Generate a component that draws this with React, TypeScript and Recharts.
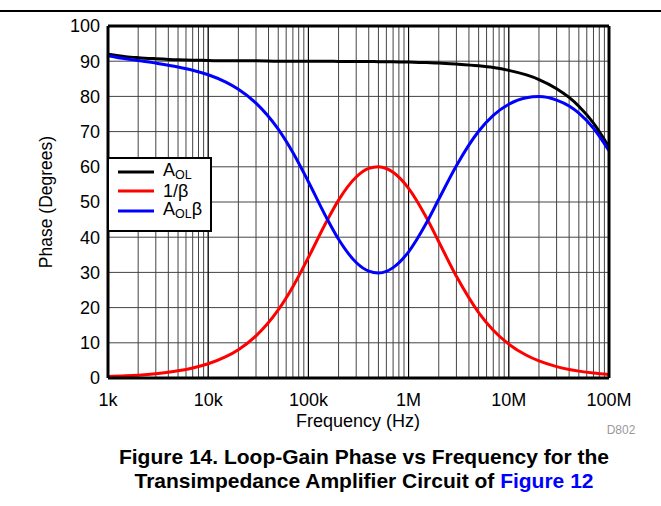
import React from 'react';
import { LineChart, Line, XAxis, YAxis, CartesianGrid, ReferenceLine } from 'recharts';

// Frequency (Hz)
const freqs = [1e3, 1.5e3, 2e3, 3e3, 5e3, 7e3, 1e4, 1.5e4, 2e4, 3e4, 5e4, 7e4, 1e5, 1.5e5, 2e5, 3e5, 4e5, 5e5, 6e5, 7e5, 1e6, 1.5e6, 2e6, 3e6, 5e6, 7e6, 1e7, 1.5e7, 2e7, 3e7, 4e7, 5e7, 7e7, 1e8];
// Phase (degrees)
const aolPhase = [92.0, 91.3, 91.0, 90.7, 90.4, 90.3, 90.2, 90.1, 90.1, 90.1, 90.0, 90.0, 90.0, 90.0, 89.95, 89.92, 89.9, 89.87, 89.85, 89.82, 89.74, 89.6, 89.5, 89.2, 88.7, 88.2, 87.4, 86.1, 84.8, 82.2, 79.7, 77.2, 72.4, 65.6];
const invBetaPhase = [0.41, 0.61, 0.81, 1.22, 2.03, 2.84, 4.05, 6.06, 8.05, 11.96, 19.33, 25.93, 34.23, 44.18, 50.54, 57.1, 59.53, 60.03, 59.52, 58.46, 53.89, 45.66, 38.71, 28.88, 18.6, 13.58, 9.62, 6.46, 4.85, 3.24, 2.43, 1.95, 1.39, 0.97];
const loopPhase = [91.59, 90.69, 90.19, 89.45, 88.37, 87.45, 86.15, 84.07, 82.05, 78.11, 70.7, 64.07, 55.76, 45.78, 39.41, 32.82, 30.36, 29.84, 30.31, 31.36, 35.85, 43.94, 50.79, 60.32, 70.1, 74.62, 77.78, 79.64, 79.95, 78.96, 77.27, 75.25, 70.96, 64.6];

const decades = [1e3, 1e4, 1e5, 1e6, 1e7, 1e8];
const decadeLabels = ['1k', '10k', '100k', '1M', '10M', '100M'];
const yTicks = [0, 10, 20, 30, 40, 50, 60, 70, 80, 90, 100];

const data = freqs.map((f, i) => ({ f, aol: aolPhase[i], inv: invBetaPhase[i], loop: loopPhase[i] }));

const xTicks: number[] = [];
for (let d = 0; d < decades.length - 1; d++) {
  for (let m = 1; m <= 9; m++) xTicks.push(decades[d] * m);
}
xTicks.push(decades[decades.length - 1]);

const FONT = '"Liberation Sans", Arial, Helvetica, sans-serif';

const fmtX = (v: number) => {
  const i = decades.findIndex((d) => Math.abs(d - v) / d < 1e-6);
  return i >= 0 ? decadeLabels[i] : '';
};

const Sub = ({ main, sub, extra }: { main: string; sub: string; extra?: string }) => (
  <span>
    {main}
    <span style={{ fontSize: 12.5, position: 'relative', top: 3 }}>{sub}</span>
    {extra}
  </span>
);

const legendItems = [
  { color: '#000000', label: <Sub main="A" sub="OL" /> },
  { color: '#ff0000', label: <span>1/β</span> },
  { color: '#0000ff', label: <Sub main="A" sub="OL" extra="β" /> },
];

const LegendBox = () => (
  <div
    style={{
      position: 'absolute',
      left: 107,
      top: 157,
      boxSizing: 'border-box',
      width: 105,
      height: 75,
      border: '2.5px solid #000',
      background: '#fff',
      padding: '3px 0 0 0',
      fontFamily: FONT,
      fontSize: 18,
      color: '#000',
    }}
  >
    {legendItems.map((it, i) => (
      <div key={i} style={{ display: 'flex', alignItems: 'center', height: 19.5, lineHeight: '19.5px' }}>
        <svg width={54} height={10} style={{ flex: 'none' }}>
          <line x1={9} y1={5} x2={45} y2={5} stroke={it.color} strokeWidth={3} />
        </svg>
        {it.label}
      </div>
    ))}
  </div>
);

export default function App() {
  return (
    <div style={{ position: 'absolute', left: 0, top: 0, width: 661, height: 506, background: '#fff', fontFamily: FONT }}>
      <div style={{ position: 'absolute', left: 0, top: 10, width: 661, height: 2, background: '#000' }} />
      <div style={{ position: 'absolute', left: 0, top: 0 }}>
        <LineChart width={661} height={440} data={data} margin={{ top: 26, right: 52, left: 48, bottom: 32 }}>
          <CartesianGrid stroke="#444" strokeWidth={1} />
          <XAxis
            dataKey="f"
            type="number"
            scale="log"
            domain={[1e3, 1e8]}
            ticks={xTicks}
            tickFormatter={fmtX}
            interval={0}
            allowDataOverflow
            axisLine={false}
            tickLine={false}
            tickSize={6}
            tickMargin={9}
            height={30}
            tick={{ fill: '#000', fontSize: 18, fontFamily: FONT }}
            label={{
              content: () => (
                <g>
                  <text x={358} y={427} textAnchor="middle" fontSize={18} fontFamily={FONT} fill="#000">
                    Frequency (Hz)
                  </text>
                  <text x={621} y={434} textAnchor="middle" fontSize={12} fontFamily={FONT} fill="#999">
                    D802
                  </text>
                </g>
              ),
            }}
          />
          <YAxis
            type="number"
            domain={[0, 100]}
            ticks={yTicks}
            interval={0}
            width={60}
            axisLine={false}
            tickLine={false}
            tickSize={6}
            tickMargin={2}
            tick={{ fill: '#000', fontSize: 18, fontFamily: FONT }}
            label={{
              content: () => (
                <text
                  x={46}
                  y={202}
                  transform="rotate(-90 46 202)"
                  textAnchor="middle"
                  dominantBaseline="central"
                  fontSize={17.5}
                  fontFamily={FONT}
                  fill="#000"
                >
                  Phase (Degrees)
                </text>
              ),
            }}
          />
          {decades.map((d) => (
            <ReferenceLine key={'d' + d} x={d} stroke="#000" strokeWidth={1} />
          ))}
          <Line type="monotone" dataKey="aol" stroke="#000000" strokeWidth={3} dot={false} isAnimationActive={false} />
          <Line type="monotone" dataKey="inv" stroke="#ff0000" strokeWidth={3} dot={false} isAnimationActive={false} />
          <Line type="monotone" dataKey="loop" stroke="#0000ff" strokeWidth={3} dot={false} isAnimationActive={false} />
          <ReferenceLine y={100} stroke="#000" strokeWidth={3} />
          <ReferenceLine y={0} stroke="#000" strokeWidth={3} />
          <ReferenceLine x={1e3} stroke="#000" strokeWidth={3} />
          <ReferenceLine x={1e8} stroke="#000" strokeWidth={3} />
        </LineChart>
      </div>
      <LegendBox />
      <div
        style={{
          position: 'absolute',
          left: 34,
          width: 660,
          top: 445,
          textAlign: 'center',
          fontWeight: 'bold',
          fontSize: 21,
          lineHeight: '24px',
          color: '#000',
        }}
      >
        Figure 14. Loop-Gain Phase vs Frequency for the
        <br />
        Transimpedance Amplifier Circuit of <span style={{ color: '#0000ff' }}>Figure 12</span>
      </div>
    </div>
  );
}
